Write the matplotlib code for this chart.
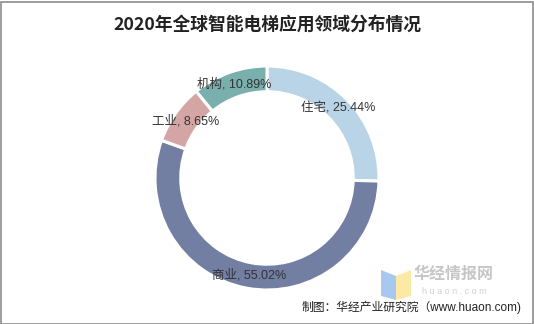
import matplotlib
matplotlib.use("Agg")
import matplotlib.pyplot as plt
from matplotlib.patches import Rectangle, Polygon

plt.rcParams['font.family'] = ['Noto Sans CJK SC', 'DejaVu Sans']
mixed = ['Liberation Sans', 'Noto Sans CJK SC']

# === DATA ====================================================================
categories = ["住宅", "商业", "工业", "机构"]
shares = [25.44, 55.02, 8.65, 10.89]
colors = ["#b9d4e6", "#727ea2", "#d4a5a5", "#79b0ad"]

title = "2020年全球智能电梯应用领域分布情况"
source = "制图：华经产业研究院（www.huaon.com)"

# === FIGURE ==================================================================
W, H = 534, 324
fig = plt.figure(figsize=(W / 100, H / 100), dpi=100)

# grey frame
fig.patches.append(Rectangle((0.5 / W, 0.5 / H), 1 - 2 / W, 1 - 2 / H,
                             transform=fig.transFigure, fill=False,
                             edgecolor="#8c8c8c", linewidth=1.2))

cx, cy, r = 267, 178, 112
ax = fig.add_axes([(cx - r) / W, (H - cy - r) / H, 2 * r / W, 2 * r / H])
labels = [f"{c}, {v:.2f}%" for c, v in zip(categories, shares)]
wedges, texts = ax.pie(shares, colors=colors, startangle=90, counterclock=False,
                       labels=labels, labeldistance=0.885,
                       wedgeprops=dict(width=0.23, edgecolor="white", linewidth=2.2),
                       textprops=dict(fontsize=9, color="#333333", family=mixed))
for t in texts:
    t.set_horizontalalignment("center")
    t.set_verticalalignment("center")
ax.set_aspect("equal")
ax.set_xlim(-1, 1)
ax.set_ylim(-1, 1)

fig.text(0.5, 1 - 25 / H, title, ha="center", va="center",
         fontsize=12.8, fontweight="bold", color="#222222")

# watermark logo
fig.patches.append(Polygon([(381 / W, 1 - 270 / H), (396 / W, 1 - 276 / H),
                            (396 / W, 1 - 300 / H), (381 / W, 1 - 296 / H)],
                           closed=True, transform=fig.transFigure,
                           facecolor="#a9c8f0", edgecolor="none"))
fig.patches.append(Polygon([(396 / W, 1 - 276 / H), (411 / W, 1 - 270 / H),
                            (411 / W, 1 - 296 / H), (396 / W, 1 - 300 / H)],
                           closed=True, transform=fig.transFigure,
                           facecolor="#fbeaa6", edgecolor="none"))
fig.text(454 / W, 1 - 274 / H, "华经情报网", ha="center", va="center",
         fontsize=11.5, fontweight="bold", color="#c6c6c6")
fig.text(454 / W, 1 - 292 / H, "h u a o n . c o m", ha="center", va="center",
         fontsize=6.5, color="#d2d2d2", family=mixed)

fig.text(522 / W, 1 - 307 / H, source, ha="right", va="center",
         fontsize=8.5, color="#222222", family=mixed)

fig.savefig("out.png", dpi=100)
